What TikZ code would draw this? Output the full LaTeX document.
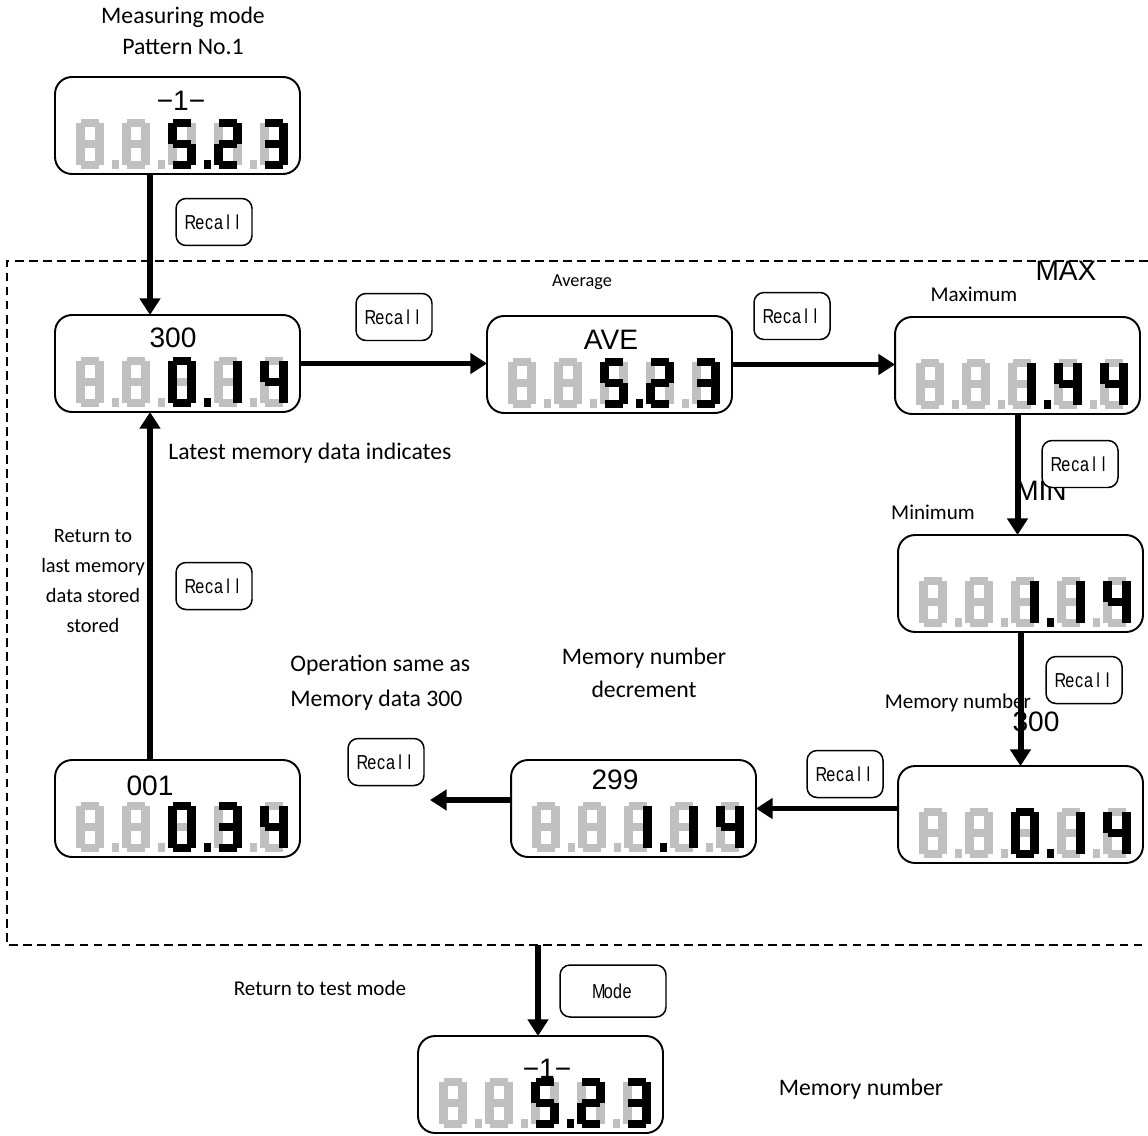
\documentclass[tikz,border=0pt]{standalone}
\usepackage{fontspec}
\setmainfont{Carlito}
\newfontfamily\lab{Liberation Sans}
\usetikzlibrary{arrows.meta}
\definecolor{segoff}{RGB}{192,192,192}
% seven-segment pieces: #1 left x, #2 top y (px, y down), #3 colour
\newcommand\sega[3]{\fill[#3] (#1+5,#2) rectangle (#1+23,#2+8);}
\newcommand\segb[3]{\fill[#3] (#1+19,#2+4) rectangle (#1+28,#2+25);}
\newcommand\segc[3]{\fill[#3] (#1+19,#2+25) rectangle (#1+28,#2+46);}
\newcommand\segd[3]{\fill[#3] (#1+5,#2+42) rectangle (#1+23,#2+50);}
\newcommand\sege[3]{\fill[#3] (#1,#2+25) rectangle (#1+9,#2+46);}
\newcommand\segf[3]{\fill[#3] (#1,#2+4) rectangle (#1+9,#2+25);}
\newcommand\segg[3]{\fill[#3] (#1+5,#2+21) rectangle (#1+23,#2+29);}
\newcommand\segdigit[4]{\foreach \s in {#4}{\csname seg\s\endcsname{#1}{#2}{#3}}}
% display: #1 name, #2 left x, #3 top y, #4 #5 #6 segments of digits 3-5
\newcommand\disp[6]{%
  \node[dispbox] (#1) at (#2+122.5,#3+48.5) {};
  \foreach \i in {0,...,4}{\segdigit{#2+21+46*\i}{#3+42}{segoff}{a,b,c,d,e,f,g}}
  \foreach \i in {0,1,3}{\fill[segoff] (#2+57+46*\i,#3+83) rectangle ++(7,9);}
  \fill[black] (#2+149,#3+83) rectangle ++(7,9);
  \segdigit{#2+113}{#3+42}{black}{#4}
  \segdigit{#2+159}{#3+42}{black}{#5}
  \segdigit{#2+205}{#3+42}{black}{#6}
}
% half-width cell lettering of the key captions
\newcommand\cell[1]{\makebox[6.7pt]{#1}}
\newcommand\keytext[1]{\scalebox{0.8}[1]{#1}}
\begin{document}
\begin{tikzpicture}[x=0.02cm,y=-0.02cm,
  dispbox/.style={draw, line width=1.1pt, rounded corners=0.34cm, minimum width=4.9cm, minimum height=1.94cm, inner sep=0pt, outer sep=0pt},
  btn/.style={draw, fill=white, line width=0.85pt, rounded corners=0.2cm, minimum width=1.52cm, minimum height=0.94cm, inner sep=0pt, outer sep=0pt, font=\lab\fontsize{11.5}{12}\selectfont},
  arr/.style={line width=3.4pt, -{Triangle[length=9.5pt,width=11.5pt]}},
  txt/.style={inner sep=0pt, font=\fontsize{13.5}{16}\selectfont},
  smalltxt/.style={inner sep=0pt, font=\fontsize{12}{14}\selectfont},
  tinytxt/.style={inner sep=0pt, font=\fontsize{10.4}{12}\selectfont},
  lbl/.style={inner sep=0pt, font=\lab\fontsize{16}{18}\selectfont},
  nlbl/.style={inner sep=0pt, font=\lab\fontsize{16}{18}\selectfont}]
\useasboundingbox (0,0) rectangle (1148,1135);
% dashed frame
\draw[line width=1.1pt, dash pattern=on 5pt off 3pt] (1148,261) -- (7,261) -- (7,945) -- (1148,945);
% texts
\node[txt] (t1) at (183,17) {Measuring mode};
\node[txt] (t2) at (183,47) {Pattern No.1};
\node[tinytxt] (tavg) at (582,282) {Average};
\node[lbl] (tmax) at (1066,271) {MAX};
\node[smalltxt] (tmaxi) at (974,294) {Maximum};
\node[txt, anchor=west] (tlat) at (168,453) {Latest memory data indicates};
\node[lbl] (tmin) at (1041,491) {MIN};
\node[smalltxt] (tmini) at (933,512) {Minimum};
\node[txt, align=center, font=\fontsize{11.6}{17.2}\selectfont] (tret) at (93,581) {Return to\\last memory\\data stored\\stored};
\node[txt, align=left, anchor=west, font=\fontsize{13.5}{19.9}\selectfont] (top) at (290,683) {Operation same as\\Memory data 300};
\node[txt, align=center, font=\fontsize{13.5}{18.8}\selectfont] (tdec) at (644,673) {Memory number\\decrement};
\node[smalltxt] (tmn) at (958,703) {Memory number};
\node[lbl] (t300) at (1036,722) {300};
\node[smalltxt] (trt) at (320,988) {Return to test mode};
\node[txt] (tmn2) at (861,1089) {Memory number};
% displays
\disp{dtop}{55}{77}{a,c,d,f,g}{a,b,d,e,g}{a,b,c,d,g}
\node[nlbl] at (181,101) {−1−};
\disp{d300}{55}{315}{a,b,c,d,e,f}{b,c}{b,c,f,g}
\node[lbl] at (173,338) {300};
\disp{dave}{487}{316}{a,c,d,f,g}{a,b,d,e,g}{a,b,c,d,g}
\node[lbl] at (611,340) {AVE};
\disp{dmax}{895}{317}{b,c}{b,c,f,g}{b,c,f,g}
\disp{dmin}{898}{535}{b,c}{b,c}{b,c,f,g}
\disp{dm300}{898}{766}{a,b,c,d,e,f}{b,c}{b,c,f,g}
\disp{d299}{511}{760}{b,c}{b,c}{b,c,f,g}
\node[lbl] at (615,780) {299};
\disp{d001}{55}{760}{a,b,c,d,e,f}{a,b,c,d,g}{b,c,f,g}
\node[lbl] at (150,786) {001};
\disp{dbot}{418}{1036}{a,c,d,f,g}{a,b,d,e,g}{a,b,c,d,g}
\node[nlbl] at (547,1069) {−1−};
% connectors
\coordinate (e299) at (430,800);
\coordinate (dashb) at (538,945);
\draw[arr] ([xshift=-0.55cm]dtop.south) -- ([xshift=-0.55cm]d300.north);
\draw[arr] (d300.east) -- (d300.east -| dave.west);
\draw[arr] (dave.east) -- (dave.east -| dmax.west);
\draw[arr] (dmax.south) -- (dmax.south |- dmin.north);
\draw[arr] (dmin.south) -- (dmin.south |- dm300.north);
\draw[arr] (d299.east -| dm300.west) -- (d299.east);
\draw[arr] (e299 -| d299.west) -- (e299);
\draw[arr] ([xshift=-0.55cm]d001.north) -- ([xshift=-0.55cm]d300.south);
\draw[arr] (dashb) -- (dashb |- dbot.north);
% buttons
\node[btn] (r1) at (214,222) {\keytext{\cell{R}\cell{e}\cell{c}\cell{a}\cell{l}\cell{l}}};
\node[btn] (r2) at (394,317) {\keytext{\cell{R}\cell{e}\cell{c}\cell{a}\cell{l}\cell{l}}};
\node[btn] (r3) at (792,316) {\keytext{\cell{R}\cell{e}\cell{c}\cell{a}\cell{l}\cell{l}}};
\node[btn] (r4) at (1080,464) {\keytext{\cell{R}\cell{e}\cell{c}\cell{a}\cell{l}\cell{l}}};
\node[btn] (r5) at (1084,680) {\keytext{\cell{R}\cell{e}\cell{c}\cell{a}\cell{l}\cell{l}}};
\node[btn] (r6) at (214,586) {\keytext{\cell{R}\cell{e}\cell{c}\cell{a}\cell{l}\cell{l}}};
\node[btn] (r7) at (845,774) {\keytext{\cell{R}\cell{e}\cell{c}\cell{a}\cell{l}\cell{l}}};
\node[btn] (r8) at (386,762) {\keytext{\cell{R}\cell{e}\cell{c}\cell{a}\cell{l}\cell{l}}};
\node[btn, minimum width=2.12cm, minimum height=1.04cm] (md) at (613,991) {\keytext{\cell{M}\cell{o}\cell{d}\cell{e}}};
\end{tikzpicture}
\end{document}
